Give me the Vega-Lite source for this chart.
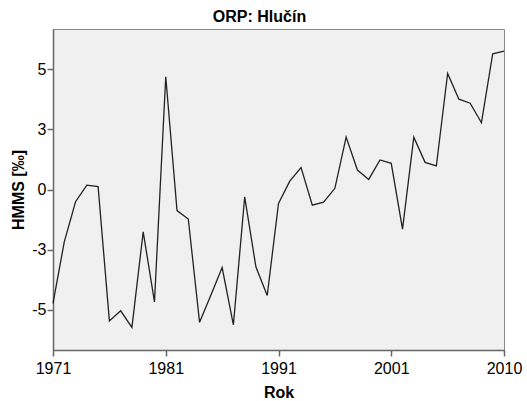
{
  "$schema": "https://vega.github.io/schema/vega-lite/v6.json",
  "width": 451,
  "height": 321,
  "autosize": {"type": "none"},
  "padding": {"left": 53, "top": 29, "right": 23, "bottom": 51},
  "background": "white",
  "title": {
    "text": "ORP: Hlučín",
    "font": "Liberation Sans",
    "fontSize": 16,
    "fontWeight": "bold",
    "color": "black",
    "anchor": "middle",
    "frame": "group",
    "dx": -19,
    "offset": 4
  },
  "config": {
    "view": {"fill": "#f0f0f0", "stroke": "#888888", "strokeWidth": 1},
    "axis": {
      "labelFont": "Liberation Sans",
      "labelFontSize": 16,
      "labelColor": "black",
      "titleFont": "Liberation Sans",
      "titleFontSize": 16,
      "titleFontWeight": "bold",
      "titleColor": "black",
      "domainColor": "#666666",
      "domainWidth": 1.5,
      "tickColor": "#666666",
      "tickWidth": 1.5,
      "grid": false
    }
  },
  "data": {
    "values": [
      {"Rok": 1971, "HMMS": -4.74},
      {"Rok": 1972, "HMMS": -2.18},
      {"Rok": 1973, "HMMS": -0.51},
      {"Rok": 1974, "HMMS": 0.18},
      {"Rok": 1975, "HMMS": 0.12},
      {"Rok": 1976, "HMMS": -5.47},
      {"Rok": 1977, "HMMS": -5.05},
      {"Rok": 1978, "HMMS": -5.74},
      {"Rok": 1979, "HMMS": -1.76},
      {"Rok": 1980, "HMMS": -4.68},
      {"Rok": 1981, "HMMS": 4.69},
      {"Rok": 1982, "HMMS": -0.88},
      {"Rok": 1983, "HMMS": -1.23},
      {"Rok": 1984, "HMMS": -5.53},
      {"Rok": 1985, "HMMS": -4.4},
      {"Rok": 1986, "HMMS": -3.25},
      {"Rok": 1987, "HMMS": -5.63},
      {"Rok": 1988, "HMMS": -0.31},
      {"Rok": 1989, "HMMS": -3.23},
      {"Rok": 1990, "HMMS": -4.41},
      {"Rok": 1991, "HMMS": -0.58},
      {"Rok": 1992, "HMMS": 0.35},
      {"Rok": 1993, "HMMS": 0.91},
      {"Rok": 1994, "HMMS": -0.65},
      {"Rok": 1995, "HMMS": -0.53},
      {"Rok": 1996, "HMMS": 0.05},
      {"Rok": 1997, "HMMS": 2.18},
      {"Rok": 1998, "HMMS": 0.81},
      {"Rok": 1999, "HMMS": 0.42},
      {"Rok": 2000, "HMMS": 1.23},
      {"Rok": 2001, "HMMS": 1.09},
      {"Rok": 2002, "HMMS": -1.65},
      {"Rok": 2003, "HMMS": 2.18},
      {"Rok": 2004, "HMMS": 1.13},
      {"Rok": 2005, "HMMS": 0.98},
      {"Rok": 2006, "HMMS": 4.83},
      {"Rok": 2007, "HMMS": 3.76},
      {"Rok": 2008, "HMMS": 3.59},
      {"Rok": 2009, "HMMS": 2.78},
      {"Rok": 2010, "HMMS": 5.65},
      {"Rok": 2011, "HMMS": 5.76}
    ]
  },
  "mark": {"type": "line", "color": "#222222", "strokeWidth": 1.3},
  "encoding": {
    "x": {
      "field": "Rok",
      "type": "quantitative",
      "scale": {"domain": [1971, 2011], "nice": false, "zero": false},
      "axis": {
        "title": "Rok",
        "values": [1971, 1981, 1991, 2001, 2011],
        "labelExpr": "datum.value == 2011 ? '2010' : toString(datum.value)",
        "tickSize": 6,
        "labelPadding": 4,
        "titlePadding": 8,
        "labelOverlap": false,
        "labelFlush": false
      }
    },
    "y": {
      "field": "HMMS",
      "type": "quantitative",
      "scale": {"domain": [-6.68, 6.68], "nice": false, "zero": false},
      "axis": {
        "title": "HMMS [‰]",
        "values": [-5, -2.5, 0, 2.5, 5],
        "labelExpr": "toString(datum.value < 0 ? -round(-datum.value) : round(datum.value))",
        "tickSize": 6,
        "labelPadding": 1,
        "titlePadding": 5
      }
    }
  }
}
